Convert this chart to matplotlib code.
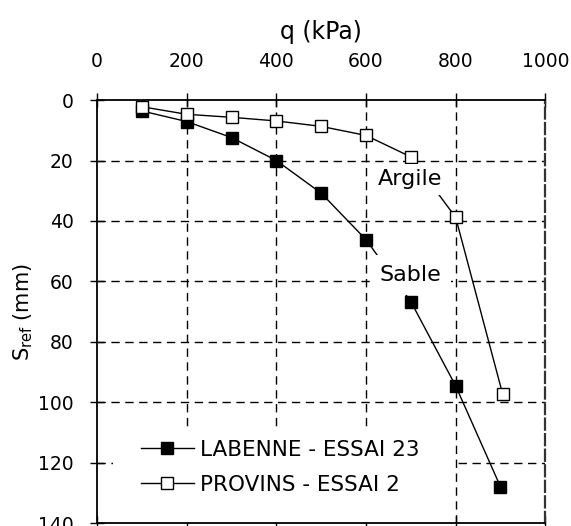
import matplotlib
matplotlib.use("Agg")
import matplotlib.pyplot as plt
import matplotlib.patches as patches

# données
q_labenne = [100, 200, 300, 400, 500, 600, 700, 800, 900]
s_labenne = [3.6, 7.1, 12.4, 20.0, 30.8, 46.2, 66.7, 94.6, 128.0]
q_provins = [100, 200, 300, 400, 500, 600, 700, 800, 905]
s_provins = [2.2, 4.7, 5.7, 6.9, 8.7, 11.7, 18.8, 38.8, 97.4]
labels = ["LABENNE - ESSAI 23", "PROVINS - ESSAI 2"]
x_ticks = [0, 200, 400, 600, 800, 1000]
y_ticks = [0, 20, 40, 60, 80, 100, 120, 140]

plt.rcParams["font.family"] = ["DejaVu Sans"]

fig = plt.figure(figsize=(5.71, 5.26), dpi=100)
ax = fig.add_axes([0.170, 0.0057, 0.785, 0.804])

dash = (0, (6, 4))
for x in x_ticks[1:-1]:
    ax.axvline(x, color="black", lw=1, ls=dash, zorder=1)
for y in y_ticks[1:-1]:
    ax.axhline(y, color="black", lw=1, ls=dash, zorder=1)

ax.plot(q_labenne, s_labenne, color="black", lw=1, marker="s", ms=9,
        mfc="black", mec="black", label=labels[0], zorder=3)
ax.plot(q_provins, s_provins, color="black", lw=1, marker="s", ms=9,
        mfc="white", mec="black", label=labels[1], zorder=3)

# étiquettes sur fond blanc (masquent les courbes dessous)
ax.text(699, 26.2, "Argile", fontsize=16, ha="center", va="center", zorder=4,
        bbox=dict(facecolor="white", edgecolor="none", boxstyle="square,pad=0.25"))
ax.text(699, 58.0, "Sable", fontsize=16, ha="center", va="center", zorder=4,
        bbox=dict(facecolor="white", edgecolor="none", boxstyle="square,pad=0.45"))

ax.set_xlim(0, 1000)
ax.set_ylim(140, 0)
ax.set_xticks(x_ticks)
ax.set_yticks(y_ticks)
ax.xaxis.set_label_position("top")
ax.set_xlabel("q (kPa)", fontsize=17, labelpad=9)
ax.set_ylabel(r"S$_{\rm ref}$ (mm)", fontsize=15, labelpad=2)
ax.tick_params(axis="both", direction="inout", length=10, width=1,
               labelsize=13.5, colors="black")
ax.tick_params(axis="x", top=True, bottom=True, labeltop=True,
               labelbottom=False, pad=16)
ax.tick_params(axis="y", pad=12)

ax.spines["right"].set_linestyle((0, (5, 2)))
ax.spines["right"].set_linewidth(1.6)
ax.spines["right"].set_color("#333333")
for side in ["top", "left", "bottom"]:
    ax.spines[side].set_linewidth(1.3)

# fond blanc de la légende
ax.add_patch(patches.Rectangle((0.036, 0.0), 0.763, 0.22, transform=ax.transAxes,
                               facecolor="white", edgecolor="none", zorder=2))
leg = ax.legend(loc="upper left", bbox_to_anchor=(0.098, 0.197), frameon=False,
                fontsize=15.5, handlelength=2.45, borderpad=0.0,
                labelspacing=0.7, handletextpad=0.28, borderaxespad=0.0)
leg.set_zorder(5)

fig.savefig("out.png", dpi=100)
